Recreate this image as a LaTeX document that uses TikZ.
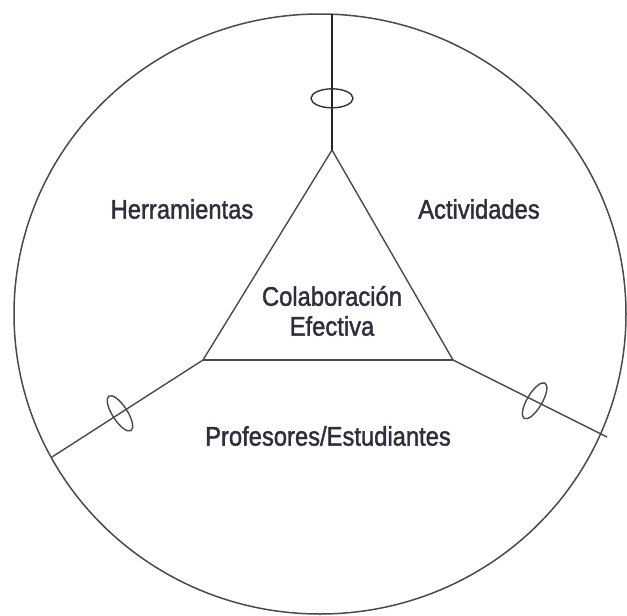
\documentclass[tikz,border=0pt]{standalone}
\usepackage{fontspec}
\setmainfont{Liberation Sans}
\newfontfamily\lblfont[FakeBold=1.6]{Liberation Sans}
\usetikzlibrary{shapes.geometric}
\definecolor{linegray}{HTML}{4A4A4A}
\definecolor{txt}{HTML}{2E2E3C}
\tikzset{
  ring/.style={draw=linegray, line width=1.5pt, ellipse, inner sep=0pt, minimum width=612pt, minimum height=600pt},
  edge/.style={draw=linegray, line width=1.4pt},
  base/.style={draw=linegray, line width=2.2pt},
  stem/.style={draw=black!85, line width=2.6pt},
  marker/.style={draw=linegray, line width=1.4pt, ellipse, inner sep=0pt, minimum width=15pt, minimum height=41pt, sloped},
  label/.style={text=txt, font=\lblfont\fontsize{22}{25}\selectfont, inner sep=0pt, align=center}
}
\newcommand{\lbltext}[1]{\scalebox{1.08}[1.22]{#1}}
\begin{document}
\begin{tikzpicture}[x=1pt,y=-1pt]
\useasboundingbox (0,0) rectangle (627,616);
\node[ring] (C) at (320,314) {};
\coordinate (A) at (332,150);
\coordinate (B) at (203,360);
\coordinate (D) at (453,360);
\coordinate (T) at (332,14);
\coordinate (L) at (52,457);
\coordinate (R) at (607,437);
\draw[edge] (A) -- (B);
\draw[edge] (A) -- (D);
\draw[base] (B) -- (D);
\draw[stem] (T) -- node[marker, pos=0.62, minimum width=19pt, minimum height=42pt, draw=black!80]{} (A);
\draw[edge] (B) -- node[marker, pos=0.55]{} (L);
\draw[edge] (D) -- node[marker, pos=0.53, rotate=-4]{} (R);
\node[label] (h) at (182,209) {\lbltext{Herramientas}};
\node[label] (a) at (479,209) {\lbltext{Actividades}};
\node[label] (c) at (332,296) {\lbltext{Colaboración}};
\node[label] (e) at (332,326) {\lbltext{Efectiva}};
\node[label] (p) at (328,436) {\lbltext{Profesores/Estudiantes}};
\end{tikzpicture}
\end{document}
